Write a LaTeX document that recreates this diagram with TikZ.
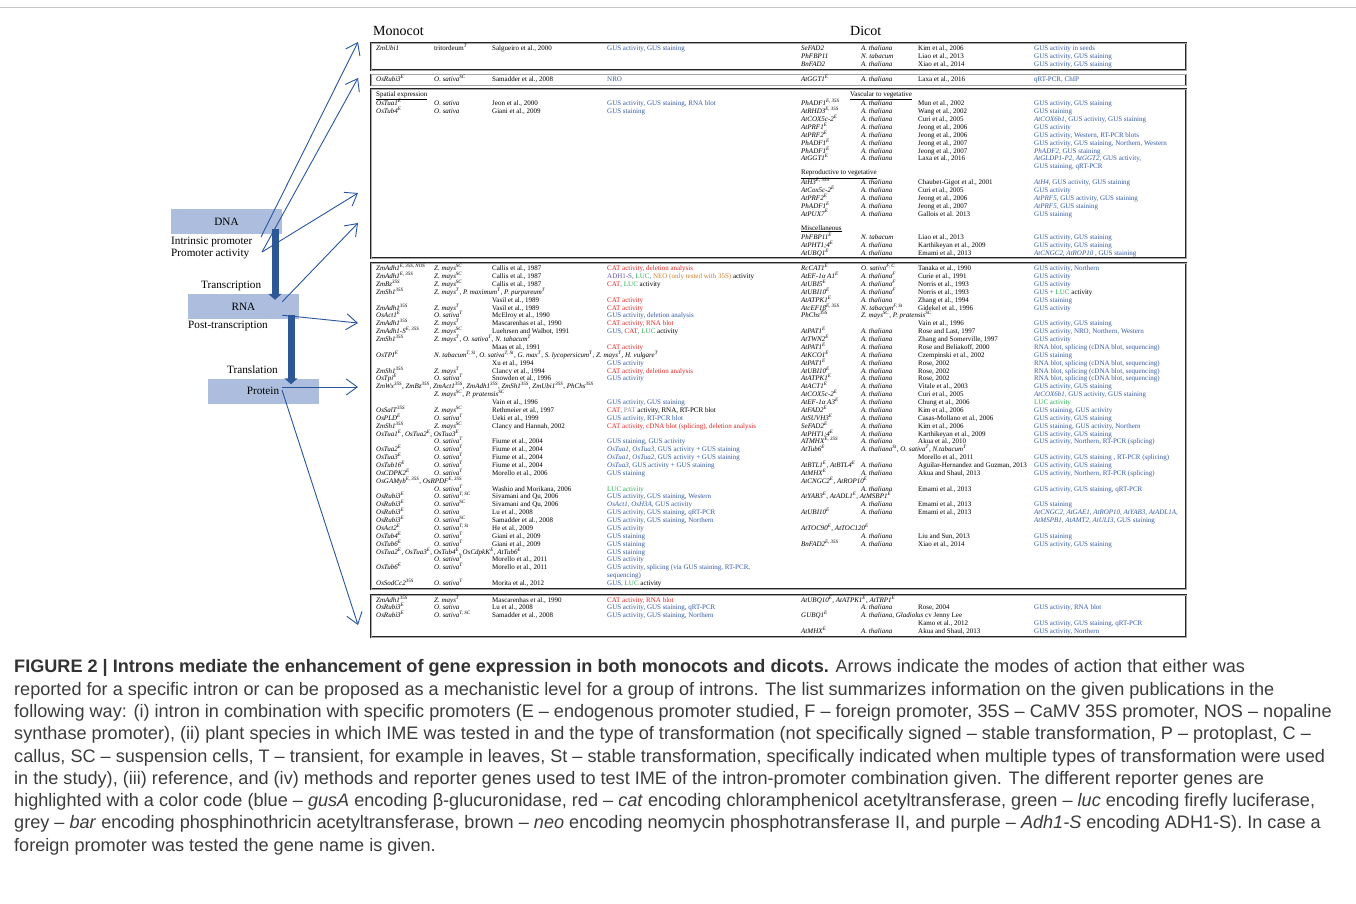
\documentclass[tikz,border=0pt]{standalone}
\usepackage{fontspec}
\setmainfont{Liberation Serif}
\newfontfamily\capfont{Liberation Sans}
\usetikzlibrary{arrows.meta}

\definecolor{gusblue}{RGB}{52,90,165}
\definecolor{catred}{RGB}{225,35,35}
\definecolor{lucgreen}{RGB}{40,175,80}
\definecolor{neobrown}{RGB}{205,125,45}
\definecolor{adhpurple}{RGB}{105,85,170}
\definecolor{bargrey}{RGB}{140,140,140}
\definecolor{molfill}{RGB}{173,189,222}
\definecolor{thickblue}{RGB}{44,88,150}
\definecolor{linkblue}{RGB}{40,85,160}
\definecolor{captext}{RGB}{60,60,60}

\newcommand{\tabfont}{\fontsize{7}{8}\selectfont}
\newcommand{\gsup}[2]{\textit{#1}\textsuperscript{\textit{#2}}}
\newcommand{\cred}[1]{\textcolor{catred}{#1}}
\newcommand{\cgreen}[1]{\textcolor{lucgreen}{#1}}
\newcommand{\cbrown}[1]{\textcolor{neobrown}{#1}}
\newcommand{\cpurple}[1]{\textcolor{adhpurple}{#1}}
\newcommand{\cgrey}[1]{\textcolor{bargrey}{#1}}
\newcommand{\cblack}[1]{\textcolor{black}{#1}}
\newcommand{\rowy}[1]{{\rowbase+(#1-1)*7.87}}
% one table line: box, line, gene, species, reference, methods
\newcommand{\mrow}[6]{%
  \node[cell] (m#1-#2g) at (376,\rowy{#2}) {#3};
  \node[cell] (m#1-#2s) at (434,\rowy{#2}) {#4};
  \node[cell] (m#1-#2r) at (492,\rowy{#2}) {#5};
  \node[cell,method] (m#1-#2m) at (607,\rowy{#2}) {#6};}
\newcommand{\drow}[6]{%
  \node[cell] (d#1-#2g) at (801,\rowy{#2}) {#3};
  \node[cell] (d#1-#2s) at (861,\rowy{#2}) {#4};
  \node[cell] (d#1-#2r) at (918,\rowy{#2}) {#5};
  \node[cell,method] (d#1-#2m) at (1034,\rowy{#2}) {#6};}

\tikzset{
  cell/.style={anchor=west, inner sep=0pt, font=\tabfont, text height=4.9pt, text depth=1.4pt},
  method/.style={text=gusblue},
  frame/.style={draw=black!85, line width=0.6pt, double=gray!70, double distance=0.6pt},
  molbox/.style={fill=molfill, minimum width=111pt, minimum height=25pt, inner sep=0pt, font=\fontsize{11.2}{13}\selectfont},
  lbl/.style={anchor=west, inner sep=0pt, font=\fontsize{11.2}{13}\selectfont},
  bigarrow/.style={draw=thickblue, line width=7pt, -{Triangle[length=6pt,width=13pt]}},
  link/.style={draw=linkblue, line width=0.9pt, -{Straight Barb[length=11pt,width=16pt,line width=0.9pt]}},
}

\begin{document}
\begin{tikzpicture}[x=1pt,y=-1pt]
\useasboundingbox (0,0) rectangle (1356,903);
\draw[gray!45, line width=0.8pt] (0,7) -- (1356,7);

% central dogma
\node[molbox] (dna) at (226.5,221.5) {DNA};
\node[molbox] (rna) at (243.5,306.5) {RNA};
\node[molbox] (prot) at (263,391) {Protein};
\node[lbl] (iplbl) at (171,242) {Intrinsic promoter};
\node[lbl] (palbl) at (171,254) {Promoter activity};
\node[lbl] (txlbl) at (201,286) {Transcription};
\node[lbl] (ptlbl) at (188,326) {Post-transcription};
\node[lbl] (tllbl) at (227,370) {Translation};
\draw[bigarrow] ([xshift=48.5pt,yshift=5pt]dna.south) -- ([xshift=31.5pt,yshift=-6pt]rna.north);
\draw[bigarrow] ([xshift=47.5pt,yshift=4pt]rna.south) -- ([xshift=28pt,yshift=-6pt]prot.north);

% arrows to the table
\coordinate (ipend) at (261,237);
\coordinate (paend) at (262,252);
\coordinate (rnaout) at ([xshift=-17pt,yshift=-8pt]rna.north east);
\coordinate (ptout) at ([xshift=-17pt,yshift=4pt]rna.south east);
\coordinate (protout) at ([xshift=19pt,yshift=4pt]prot.center);
\coordinate (protdown) at ([xshift=19pt,yshift=1pt]prot.center);
\coordinate (to1) at (358,42);
\coordinate (to2) at (358,78);
\coordinate (to3a) at (358,193);
\coordinate (to3b) at (358,223);
\coordinate (to4a) at (358,323);
\coordinate (to4b) at (358,387);
\coordinate (to5) at (358,625);
\draw[link] (ipend) -- (to1);
\draw[link] (paend) -- (to2);
\draw[link] (paend) -- (to3a);
\draw[link] (rnaout) -- (to3b);
\draw[link] (ptout) -- (to4a);
\draw[link] (protout) -- (to4b);
\draw[link] (protdown) -- (to5);

% table
\node[anchor=west, inner sep=0pt, font=\fontsize{14}{16}\selectfont] (monocot) at (373,31) {Monocot};
\node[anchor=west, inner sep=0pt, font=\fontsize{14}{16}\selectfont] (dicot) at (850,31) {Dicot};
\draw[frame] (371,43) rectangle (1186,70);
\draw[frame] (371,74.5) rectangle (1186,85.5);
\draw[frame] (371,89) rectangle (1186,258);
\draw[frame] (371,263) rectangle (1186,589);
\draw[frame] (371,595) rectangle (1186,637);

\def\rowbase{49}
\mrow{1}{1}{\textit{ZmUbi1}}{tritordeum\textsuperscript{\textit{T}}}{Salgueiro et al., 2000}{GUS activity, GUS staining}
\drow{1}{1}{\textit{SeFAD2}}{\textit{A. thaliana}}{Kim et al., 2006}{GUS activity in seeds}
\drow{1}{2}{\textit{PhFBP11}}{\textit{N. tabacum}}{Liao et al., 2013}{GUS activity, GUS staining}
\drow{1}{3}{\textit{BnFAD2}}{\textit{A. thaliana}}{Xiao et al., 2014}{GUS activity, GUS staining}

\def\rowbase{79.5}
\mrow{2}{1}{\gsup{OsRubi3}{E}}{\gsup{O. sativa}{SC}}{Samadder et al., 2008}{NRO}
\drow{2}{1}{\gsup{AtGGT1}{E}}{\textit{A. thaliana}}{Laxa et al., 2016}{qRT-PCR, ChIP}

\def\rowbase{96.2}
\node[cell] (spatial) at (376,94.5) {\underline{Spatial expression}};
\mrow{3}{2}{\gsup{OsTua1}{E}}{\textit{O. sativa}}{Jeon et al., 2000}{GUS activity, GUS staining, RNA blot}
\mrow{3}{3}{\gsup{OsTub4}{E}}{\textit{O. sativa}}{Giani et al., 2009}{GUS staining}
\node[cell] (vascular) at (850,94.5) {\underline{Vascular to vegetative}};
\drow{3}{2}{\gsup{PhADF1}{E, 35S}}{\textit{A. thaliana}}{Mun et al., 2002}{GUS activity, GUS staining}
\drow{3}{3}{\gsup{AtRHD3}{E, 35S}}{\textit{A. thaliana}}{Wang et al., 2002}{GUS staining}
\drow{3}{4}{\gsup{AtCOX5c-2}{E}}{\textit{A. thaliana}}{Curi et al., 2005}{\textit{AtCOX6b1}, GUS activity, GUS staining}
\drow{3}{5}{\gsup{AtPRF1}{E}}{\textit{A. thaliana}}{Jeong et al., 2006}{GUS activity}
\drow{3}{6}{\gsup{AtPRF2}{E}}{\textit{A. thaliana}}{Jeong et al., 2006}{GUS activity, Western, RT-PCR blots}
\drow{3}{7}{\gsup{PhADF1}{E}}{\textit{A. thaliana}}{Jeong et al., 2007}{GUS activity, GUS staining, Northern, Western}
\drow{3}{8}{\gsup{PhADF1}{E}}{\textit{A. thaliana}}{Jeong et al., 2007}{\textit{PhADF2}, GUS staining}
\drow{3}{9}{\gsup{AtGGT1}{E}}{\textit{A. thaliana}}{Laxa et al., 2016}{\textit{AtGLDP1-P2}, \textit{AtGGT2}, GUS activity,}
\drow{3}{10}{}{}{}{GUS staining, qRT-PCR}
\node[cell] (reproductive) at (801,173.2) {\underline{Reproductive to vegetative}};
\drow{3}{12}{\gsup{AtH3}{E, 35S}}{\textit{A. thaliana}}{Chaubet-Gigot et al., 2001}{\textit{AtH4}, GUS activity, GUS staining}
\drow{3}{13}{\gsup{AtCox5c-2}{E}}{\textit{A. thaliana}}{Curi et al., 2005}{GUS activity}
\drow{3}{14}{\gsup{AtPRF2}{E}}{\textit{A. thaliana}}{Jeong et al., 2006}{\textit{AtPRF5}, GUS activity, GUS staining}
\drow{3}{15}{\gsup{PhADF1}{E}}{\textit{A. thaliana}}{Jeong et al., 2007}{\textit{AtPRF5}, GUS staining}
\drow{3}{16}{\gsup{AtPUX7}{E}}{\textit{A. thaliana}}{Gallois et al. 2013}{GUS staining}
\node[cell] (misc) at (801,228.3) {\underline{Miscellaneous}};
\drow{3}{19}{\gsup{PhFBP11}{E}}{\textit{N. tabacum}}{Liao et al., 2013}{GUS activity, GUS staining}
\drow{3}{20}{\gsup{AtPHT1;4}{E}}{\textit{A. thaliana}}{Karthikeyan et al., 2009}{GUS activity, GUS staining}
\drow{3}{21}{\gsup{AtUBQ1}{E}}{\textit{A. thaliana}}{Emami et al., 2013}{\textit{AtCNGC2}, \textit{AtROP10} , GUS staining}

\def\rowbase{269}
\mrow{4}{1}{\gsup{ZmAdh1}{E, 35S, NOS}}{\gsup{Z. mays}{SC}}{Callis et al., 1987}{\cred{CAT activity, deletion analysis}}
\mrow{4}{2}{\gsup{ZmAdh1}{E, 35S}}{\gsup{Z. mays}{SC}}{Callis et al., 1987}{\cpurple{ADH1-S}, \cgreen{LUC}, \cbrown{NEO (only tested with 35S)} \cblack{activity}}
\mrow{4}{3}{\gsup{ZmBz}{35S}}{\gsup{Z. mays}{SC}}{Callis et al., 1987}{\cred{CAT}, \cgreen{LUC} \cblack{activity}}
\mrow{4}{4}{\gsup{ZmSh1}{35S}}{\gsup{Z. mays}{T}, \gsup{P. maximum}{T}, \gsup{P. purpureum}{T}}{}{}
\mrow{4}{5}{}{}{Vasil et al., 1989}{\cred{CAT activity}}
\mrow{4}{6}{\gsup{ZmAdh1}{35S}}{\gsup{Z. mays}{T}}{Vasil et al., 1989}{\cred{CAT activity}}
\mrow{4}{7}{\gsup{OsAct1}{E}}{\gsup{O. sativa}{T}}{McElroy et al., 1990}{GUS activity, deletion analysis}
\mrow{4}{8}{\gsup{ZmAdh1}{35S}}{\gsup{Z. mays}{T}}{Mascarenhas et al., 1990}{\cred{CAT activity, RNA blot}}
\mrow{4}{9}{\gsup{ZmAdh1-S}{E, 35S}}{\gsup{Z. mays}{SC}}{Luehrsen and Walbot, 1991}{GUS, \cred{CAT}, \cgreen{LUC} \cblack{activity}}
\mrow{4}{10}{\gsup{ZmSh1}{35S}}{\gsup{Z. mays}{T}, \gsup{O. sativa}{T}, \gsup{N. tabacum}{T}}{}{}
\mrow{4}{11}{}{}{Maas et al., 1991}{\cred{CAT activity}}
\mrow{4}{12}{\gsup{OsTPI}{E}}{\gsup{N. tabacum}{T, St}, \gsup{O. sativa}{T, St}, \gsup{G. max}{T}, \gsup{S. lycopersicum}{T}, \gsup{Z. mays}{T}, \gsup{H. vulgare}{T}}{}{}
\mrow{4}{13}{}{}{Xu et al., 1994}{GUS activity}
\mrow{4}{14}{\gsup{ZmSh1}{35S}}{\gsup{Z. mays}{T}}{Clancy et al., 1994}{\cred{CAT activity, deletion analysis}}
\mrow{4}{15}{\gsup{OsTpi}{E}}{\gsup{O. sativa}{T}}{Snowden et al., 1996}{GUS activity}
\mrow{4}{16}{\gsup{ZmWx}{35S}, \gsup{ZmBz}{35S}, \gsup{ZmAct1}{35S}, \gsup{ZmAdh1}{35S}, \gsup{ZmSh1}{35S}, \gsup{ZmUbi1}{35S}, \gsup{PhChs}{35S}}{}{}{}
\mrow{4}{17}{}{\gsup{Z. mays}{SC}, \gsup{P. pratensis}{SC}}{}{}
\mrow{4}{18}{}{}{Vain et al., 1996}{GUS activity, GUS staining}
\mrow{4}{19}{\gsup{OsSalT}{35S}}{\gsup{Z. mays}{SC}}{Rethmeier et al., 1997}{\cred{CAT}, \cgrey{PAT} \cblack{activity, RNA, RT-PCR blot}}
\mrow{4}{20}{\gsup{OsPLD}{E}}{\gsup{O. sativa}{T}}{Ueki et al., 1999}{GUS activity, RT-PCR blot}
\mrow{4}{21}{\gsup{ZmSh1}{35S}}{\gsup{Z. mays}{SC}}{Clancy and Hannah, 2002}{\cred{CAT activity, cDNA blot (splicing), deletion analysis}}
\mrow{4}{22}{\gsup{OsTua1}{E}, \gsup{OsTua2}{E}, \gsup{OsTua3}{E}}{}{}{}
\mrow{4}{23}{}{\gsup{O. sativa}{T}}{Fiume et al., 2004}{GUS staining, GUS activity}
\mrow{4}{24}{\gsup{OsTua2}{E}}{\gsup{O. sativa}{T}}{Fiume et al., 2004}{\textit{OsTua1}, \textit{OsTua3}, GUS activity + GUS staining}
\mrow{4}{25}{\gsup{OsTua3}{E}}{\gsup{O. sativa}{T}}{Fiume et al., 2004}{\textit{OsTua1}, \textit{OsTua2}, GUS activity + GUS staining}
\mrow{4}{26}{\gsup{OsTub16}{E}}{\gsup{O. sativa}{T}}{Fiume et al., 2004}{\textit{OsTua3}, GUS activity + GUS staining}
\mrow{4}{27}{\gsup{OsCDPK2}{E}}{\gsup{O. sativa}{T}}{Morello et al., 2006}{GUS staining}
\mrow{4}{28}{\gsup{OsGAMyb}{E, 35S}, \gsup{OsRPDF}{E, 35S}}{}{}{}
\mrow{4}{29}{}{\gsup{O. sativa}{T}}{Washio and Morikana, 2006}{\cgreen{LUC activity}}
\mrow{4}{30}{\gsup{OsRubi3}{E}}{\gsup{O. sativa}{T, SC}}{Sivamani and Qu, 2006}{GUS activity, GUS staining, Western}
\mrow{4}{31}{\gsup{OsRubi3}{E}}{\gsup{O. sativa}{SC}}{Sivamani and Qu, 2006}{\textit{OsAct1}, \textit{OsH3A}, GUS activity}
\mrow{4}{32}{\gsup{OsRubi3}{E}}{\textit{O. sativa}}{Lu et al., 2008}{GUS activity, GUS staining, qRT-PCR}
\mrow{4}{33}{\gsup{OsRubi3}{E}}{\gsup{O. sativa}{SC}}{Samadder et al., 2008}{GUS activity, GUS staining, Northern}
\mrow{4}{34}{\gsup{OsAct2}{E}}{\gsup{O. sativa}{T, St}}{He et al., 2009}{GUS activity}
\mrow{4}{35}{\gsup{OsTub4}{E}}{\gsup{O. sativa}{T}}{Giani et al., 2009}{GUS staining}
\mrow{4}{36}{\gsup{OsTub6}{E}}{\gsup{O. sativa}{T}}{Giani et al., 2009}{GUS staining}
\mrow{4}{37}{\gsup{OsTua2}{E}, \gsup{OsTua3}{E}, \gsup{OsTub4}{E}, \gsup{OsCdpkK}{E}, \gsup{AtTub6}{E}}{}{}{GUS staining}
\mrow{4}{38}{}{\gsup{O. sativa}{T}}{Morello et al., 2011}{GUS activity}
\mrow{4}{39}{\gsup{OsTub6}{E}}{\gsup{O. sativa}{T}}{Morello et al., 2011}{GUS activity, splicing (via GUS staining, RT-PCR,}
\mrow{4}{40}{}{}{}{sequencing)}
\mrow{4}{41}{\gsup{OsSodCc2}{35S}}{\gsup{O. sativa}{T}}{Morita et al., 2012}{GUS, \cgreen{LUC} \cblack{activity}}

\drow{4}{1}{\gsup{RcCAT1}{E}}{\gsup{O. sativa}{F, C}}{Tanaka et al., 1990}{GUS activity, Northern}
\drow{4}{2}{\gsup{AtEF-1α A1}{E}}{\gsup{A. thaliana}{F}}{Curie et al., 1991}{GUS activity}
\drow{4}{3}{\gsup{AtUBI5}{E}}{\gsup{A. thaliana}{F}}{Norris et al., 1993}{GUS activity}
\drow{4}{4}{\gsup{AtUBI10}{E}}{\gsup{A. thaliana}{F}}{Norris et al., 1993}{GUS + \cgreen{LUC} \cblack{activity}}
\drow{4}{5}{\gsup{AtATPK1}{E}}{\textit{A. thaliana}}{Zhang et al., 1994}{GUS staining}
\drow{4}{6}{\gsup{AtcEF1β}{E, 35S}}{\gsup{N. tabacum}{F, St}}{Gidekel et al., 1996}{GUS activity}
\drow{4}{7}{\gsup{PhChs}{35S}}{\gsup{Z. mays}{SC}, \gsup{P. pratensis}{SC}}{}{}
\drow{4}{8}{}{}{Vain et al., 1996}{GUS activity, GUS staining}
\drow{4}{9}{\gsup{AtPAT1}{E}}{\textit{A. thaliana}}{Rose and Last, 1997}{GUS activity, NRO, Northern, Western}
\drow{4}{10}{\gsup{AtTWN2}{E}}{\textit{A. thaliana}}{Zhang and Somerville, 1997}{GUS activity}
\drow{4}{11}{\gsup{AtPAT1}{E}}{\textit{A. thaliana}}{Rose and Beliakoff, 2000}{RNA blot, splicing (cDNA blot, sequencing)}
\drow{4}{12}{\gsup{AtKCO1}{E}}{\textit{A. thaliana}}{Czempinski et al., 2002}{GUS staining}
\drow{4}{13}{\gsup{AtPAT1}{E}}{\textit{A. thaliana}}{Rose, 2002}{RNA blot, splicing (cDNA blot, sequencing)}
\drow{4}{14}{\gsup{AtUBI10}{E}}{\textit{A. thaliana}}{Rose, 2002}{RNA blot, splicing (cDNA blot, sequencing)}
\drow{4}{15}{\gsup{AtATPK1}{E}}{\textit{A. thaliana}}{Rose, 2002}{RNA blot, splicing (cDNA blot, sequencing)}
\drow{4}{16}{\gsup{AtACT1}{E}}{\textit{A. thaliana}}{Vitale et al., 2003}{GUS activity, GUS staining}
\drow{4}{17}{\gsup{AtCOX5c-2}{E}}{\textit{A. thaliana}}{Curi et al., 2005}{\textit{AtCOX6b1}, GUS activity, GUS staining}
\drow{4}{18}{\gsup{AtEF-1α A3}{E}}{\textit{A. thaliana}}{Chung et al., 2006}{\cgreen{LUC activity}}
\drow{4}{19}{\gsup{AtFAD2}{E}}{\textit{A. thaliana}}{Kim et al., 2006}{GUS staining, GUS activity}
\drow{4}{20}{\gsup{AtSUVH3}{E}}{\textit{A. thaliana}}{Casas-Mollano et al., 2006}{GUS activity, GUS staining}
\drow{4}{21}{\gsup{SeFAD2}{E}}{\textit{A. thaliana}}{Kim et al., 2006}{GUS staining, GUS activity, Northern}
\drow{4}{22}{\gsup{AtPHT1;4}{E}}{\textit{A. thaliana}}{Karthikeyan et al., 2009}{GUS activity, GUS staining}
\drow{4}{23}{\gsup{ATMHX}{E, 35S}}{\textit{A. thaliana}}{Akua et al., 2010}{GUS activity, Northern, RT-PCR (splicing)}
\drow{4}{24}{\gsup{AtTub6}{E}}{\gsup{A. thaliana}{St}, \gsup{O. sativa}{T}, \gsup{N.tabacum}{T}}{}{}
\drow{4}{25}{}{}{Morello et al., 2011}{GUS activity, GUS staining , RT-PCR (splicing)}
\drow{4}{26}{\gsup{AtBTL1}{E}, \gsup{AtBTL4}{E}}{\textit{A. thaliana}}{Aguilar-Hernandez and Guzman, 2013}{GUS activity, GUS staining}
\drow{4}{27}{\gsup{AtMHX}{E}}{\textit{A. thaliana}}{Akua and Shaul, 2013}{GUS activity, Northern, RT-PCR (splicing)}
\drow{4}{28}{\gsup{AtCNGC2}{E}, \gsup{AtROP10}{E}}{}{}{}
\drow{4}{29}{}{\textit{A. thaliana}}{Emami et al., 2013}{GUS activity, GUS staining, qRT-PCR}
\drow{4}{30}{\gsup{AtYAB3}{E}, \gsup{AtADL1}{E}, \gsup{AtMSBP1}{E}}{}{}{}
\drow{4}{31}{}{\textit{A. thaliana}}{Emami et al., 2013}{GUS staining}
\drow{4}{32}{\gsup{AtUBI10}{E}}{\textit{A. thaliana}}{Emami et al., 2013}{\textit{AtCNGC2, AtGAE1, AtROP10, AtYAB3, AtADL1A,}}
\drow{4}{33}{}{}{}{\textit{AtMSPB1, AtAMT2, AtULI3}, GUS staining}
\drow{4}{34}{\gsup{AtTOC90}{E}, \gsup{AtTOC120}{E}}{}{}{}
\drow{4}{35}{}{\textit{A. thaliana}}{Liu and Sun, 2013}{GUS staining}
\drow{4}{36}{\gsup{BnFAD2}{E, 35S}}{\textit{A. thaliana}}{Xiao et al., 2014}{GUS activity, GUS staining}

\def\rowbase{600.3}
\mrow{5}{1}{\gsup{ZmAdh1}{35S}}{\gsup{Z. mays}{T}}{Mascarenhas et al., 1990}{\cred{CAT activity, RNA blot}}
\mrow{5}{2}{\gsup{OsRubi3}{E}}{\textit{O. sativa}}{Lu et al., 2008}{GUS activity, GUS staining, qRT-PCR}
\mrow{5}{3}{\gsup{OsRubi3}{E}}{\gsup{O. sativa}{T, SC}}{Samadder et al., 2008}{GUS activity, GUS staining, Northern}
\drow{5}{1}{\gsup{AtUBQ10}{E}, \gsup{AtATPK1}{E}, \gsup{AtTRP1}{E}}{}{}{}
\drow{5}{2}{}{\textit{A. thaliana}}{Rose, 2004}{GUS activity, RNA blot}
\drow{5}{3}{\gsup{GUBQ1}{E}}{\textit{A. thaliana, Gladiolus} cv Jenny Lee}{}{}
\drow{5}{4}{}{}{Kamo et al., 2012}{GUS activity, GUS staining, qRT-PCR}
\drow{5}{5}{\gsup{AtMHX}{E}}{\textit{A. thaliana}}{Akua and Shaul, 2013}{GUS activity, Northern}

% caption
\node[anchor=north west, inner sep=0pt, align=left, text=captext,
      font=\capfont\fontsize{18.1}{22.3}\selectfont] (caption) at (14,659.5) {%
\textbf{\color{black!80}FIGURE 2 | Introns mediate the enhancement of gene expression in both monocots and dicots.} Arrows indicate the modes of action that either was\\
reported for a specific intron or can be proposed as a mechanistic level for a group of introns. The list summarizes information on the given publications in the\\
following way: (i) intron in combination with specific promoters (E – endogenous promoter studied, F – foreign promoter, 35S – CaMV 35S promoter, NOS – nopaline\\
synthase promoter), (ii) plant species in which IME was tested in and the type of transformation (not specifically signed – stable transformation, P – protoplast, C –\\
callus, SC – suspension cells, T – transient, for example in leaves, St – stable transformation, specifically indicated when multiple types of transformation were used\\
in the study), (iii) reference, and (iv) methods and reporter genes used to test IME of the intron-promoter combination given. The different reporter genes are\\
highlighted with a color code (blue – \textit{gusA} encoding β-glucuronidase, red – \textit{cat} encoding chloramphenicol acetyltransferase, green – \textit{luc} encoding firefly luciferase,\\
grey – \textit{bar} encoding phosphinothricin acetyltransferase, brown – \textit{neo} encoding neomycin phosphotransferase II, and purple – \textit{Adh1-S} encoding ADH1-S). In case a\\
foreign promoter was tested the gene name is given.};
\end{tikzpicture}
\end{document}
